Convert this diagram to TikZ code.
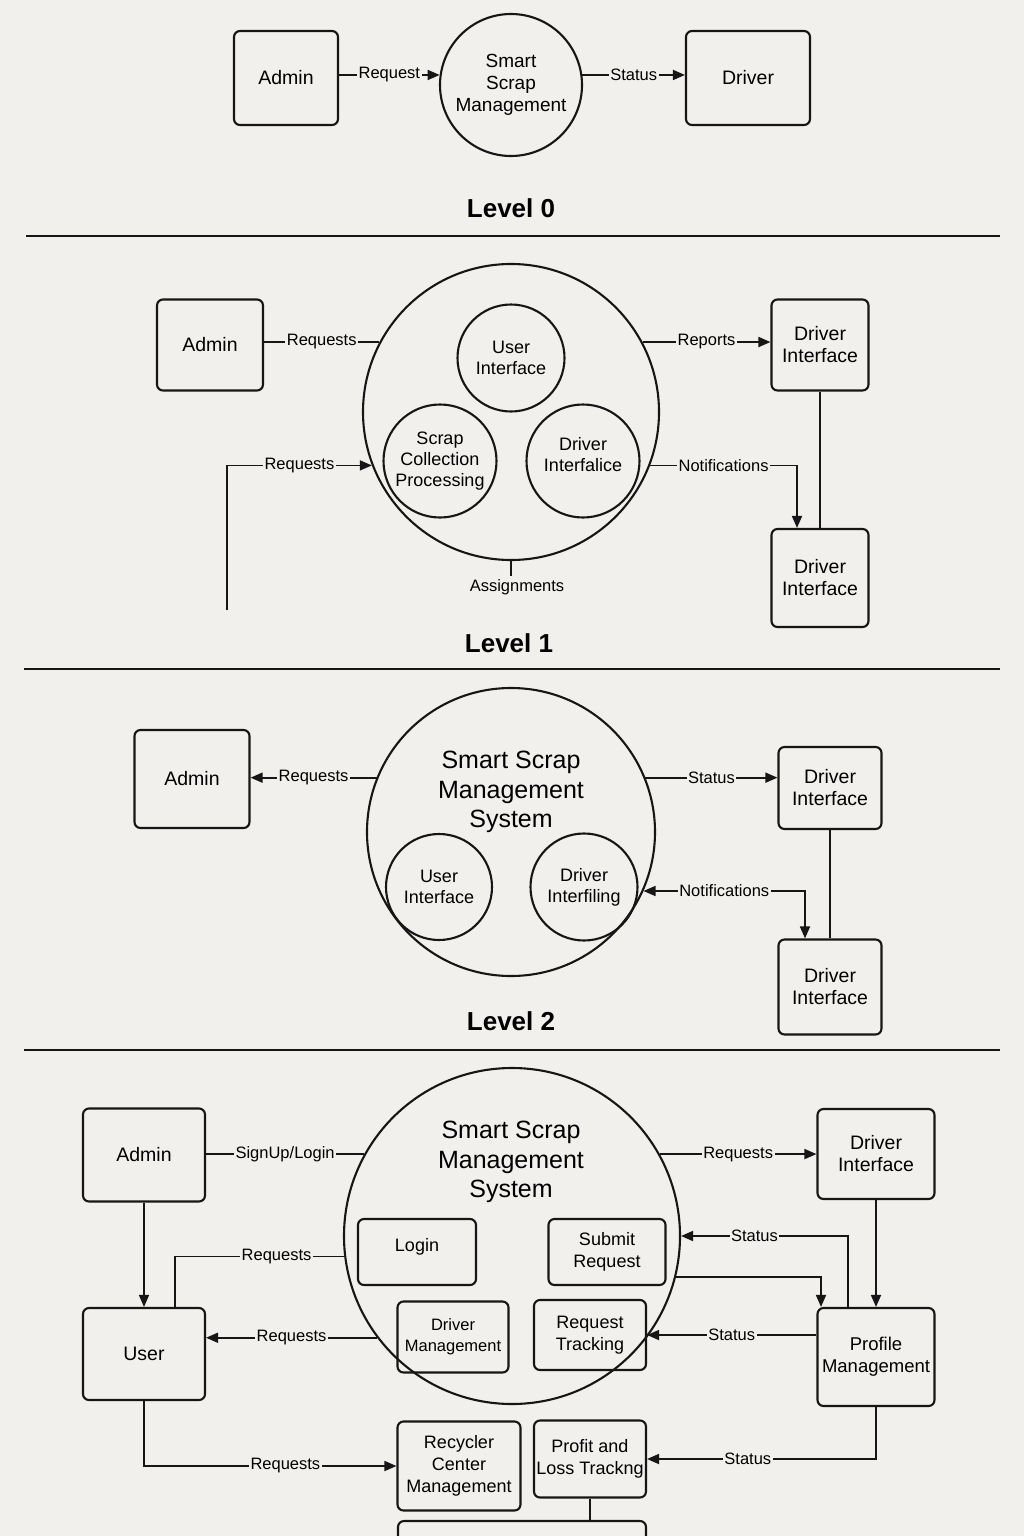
\documentclass[tikz,border=0pt]{standalone}
\usepackage{fontspec}
\setmainfont{Liberation Sans}
\usepackage{tikz}
\usetikzlibrary{arrows.meta}
\definecolor{paper}{RGB}{242,240,236}
\definecolor{ink}{RGB}{22,22,22}

\tikzset{
    entity/.style={draw=ink,line width=2.1pt,rounded corners=6pt,align=center,
        inner sep=0pt,font=\fontsize{19.5}{22}\selectfont},
    inbox/.style={draw=ink,line width=2.1pt,rounded corners=6pt,align=center,
        inner sep=0pt,font=\fontsize{18}{22}\selectfont},
    proc/.style={draw=ink,line width=2.1pt,circle,align=center,inner sep=0pt,
        font=\fontsize{18}{21}\selectfont},
    flowlbl/.style={fill=paper,inner sep=1.5pt,font=\fontsize{16.5}{19}\selectfont},
    flow/.style={draw=ink,line width=1.7pt},
    arr/.style={flow,-{Triangle[length=12pt,width=10pt]}},
    levelname/.style={font=\bfseries\fontsize{26}{30}\selectfont},
    systitle/.style={align=center,font=\fontsize{25}{29.5}\selectfont},
    divider/.style={draw=ink,line width=2pt}
}

\begin{document}
\begin{tikzpicture}[x=1pt,y=-1pt]
    \fill[paper] (0,0) rectangle (1024,1536);
    \useasboundingbox (0,0) rectangle (1024,1536);

    % level 0
    \begin{scope}
        \node[entity,minimum width=104,minimum height=94] (adm0) at (286,78) {Admin};
        \node[proc,minimum size=142,font=\fontsize{19}{22}\selectfont] (c0) at (511,85)
            {Smart\\Scrap\\Management};
        \node[entity,minimum width=124,minimum height=94] (drv0) at (748,78) {Driver};
        \draw[arr] (adm0.east |- c0.172) -- node[flowlbl] {Request} (c0.172);
        \draw[arr] (c0.8) -- node[flowlbl] {Status} (c0.8 -| drv0.west);
        \node[levelname] (lv0) at (511,208) {Level 0};
        \draw[divider] (26,236) -- (1000,236);
    \end{scope}

    % level 1
    \begin{scope}
        \node[entity,minimum width=106,minimum height=91] (adm1) at (210,345) {Admin};
        \node[proc,minimum size=296] (c1) at (511,412) {};
        \node[proc,minimum size=107] (ui1) at (511,358) {User\\Interface};
        \node[proc,minimum size=113] (scp1) at (440,461) {Scrap\\Collection\\Processing};
        \node[proc,minimum size=113] (dri1) at (583,461) {Driver\\Interfalice\\[-7pt]};
        \node[entity,minimum width=97,minimum height=91] (drv1a) at (820,345) {Driver\\Interface};
        \node[entity,minimum width=97,minimum height=98] (drv1b) at (820,578) {Driver\\Interface};
        \coordinate (src1) at (227,610);
        \draw[flow] (adm1.east |- c1.152) -- node[flowlbl] {Requests} (c1.152);
        \draw[arr] (src1) |- node[flowlbl,pos=0.75] {Requests} (c1.201);
        \draw[arr] (c1.28) -- node[flowlbl] {Reports} (c1.28 -| drv1a.west);
        \draw[flow] (drv1a.south) -- (drv1b.north);
        \draw[arr] (c1.-21) -| node[flowlbl,pos=0.25] {Notifications}
            ([xshift=-23pt]drv1b.north);
        \node[font=\fontsize{16.5}{19}\selectfont] (asg1) at (517,587) {Assignments};
        \draw[flow] (c1.south) -- (c1.south |- asg1.north);
        \node[levelname] (lv1) at (509,643) {Level 1};
        \draw[divider] (24,669) -- (1000,669);
    \end{scope}

    % level 2
    \begin{scope}
        \node[entity,minimum width=115,minimum height=98] (adm2) at (192,779) {Admin};
        \node[proc,minimum size=288] (c2) at (511,832) {};
        \node[systitle] (t2) at (511,792) {Smart Scrap\\Management\\System};
        \node[proc,minimum size=106] (ui2) at (439,887) {User\\Interface};
        \node[proc,minimum size=107] (dri2) at (584,887) {Driver\\Interfiling};
        \node[entity,minimum width=103,minimum height=82] (drv2a) at (830,788) {Driver\\Interface};
        \node[entity,minimum width=103,minimum height=95] (drv2b) at (830,987) {Driver\\Interface};
        \draw[arr] (c2.158) -- node[flowlbl] {Requests} (c2.158 -| adm2.east);
        \draw[arr] (c2.22) -- node[flowlbl] {Status} (c2.22 -| drv2a.west);
        \draw[flow] (drv2a.south) -- (drv2b.north);
        \draw[flow,{Triangle[length=12pt,width=10pt]}-{Triangle[length=12pt,width=10pt]}]
            (c2.-24) -| node[flowlbl,pos=0.25] {Notifications} ([xshift=-25pt]drv2b.north);
        \node[levelname] (lv2) at (511,1021) {Level 2};
        \draw[divider] (24,1050) -- (1000,1050);
    \end{scope}

    % level 3
    \begin{scope}
        \node[entity,minimum width=122,minimum height=93] (adm3) at (144,1155) {Admin};
        \node[entity,minimum width=122,minimum height=92] (user3) at (144,1354) {User};
        \node[proc,minimum size=336] (c3) at (512,1236) {};
        \node[systitle] (t3) at (511,1162) {Smart Scrap\\Management\\System};
        \node[inbox,minimum width=118,minimum height=66] (login3) at (417,1252) {Login\\[-7pt]};
        \node[inbox,minimum width=117,minimum height=66] (sub3) at (607,1252) {Submit\\Request};
        \node[inbox,minimum width=111,minimum height=71,font=\fontsize{16.5}{21}\selectfont]
            (dm3) at (453,1337) {Driver\\Management};
        \node[inbox,minimum width=112,minimum height=70] (trk3) at (590,1335) {Request\\Tracking};
        \node[entity,minimum width=117,minimum height=90] (drv3) at (876,1154) {Driver\\Interface};
        \node[entity,minimum width=117,minimum height=98,font=\fontsize{18.5}{22}\selectfont]
            (prof3) at (876,1357) {Profile\\Management};
        \node[inbox,minimum width=123,minimum height=89] (rec3) at (459,1466)
            {Recycler\\Center\\Management};
        \node[inbox,minimum width=112,minimum height=77] (pl3) at (590,1459)
            {Profit and\\Loss Trackng};
        \node[inbox,minimum width=248,minimum height=78] (bot3) at (522,1560) {};

        \draw[flow] (adm3.east |- c3.151) -- node[flowlbl] {SignUp/Login} (c3.151);
        \draw[arr] (c3.29) -- node[flowlbl] {Requests} (c3.29 -| drv3.west);
        \draw[arr] (adm3.south) -- (user3.north);
        \draw[flow] ([xshift=31pt]user3.north) |- node[flowlbl,pos=0.8] {Requests} (c3.187);
        \draw[arr] (c3.217) -- node[flowlbl] {Requests} (c3.217 -| user3.east);
        \draw[arr] (user3.south) |- node[flowlbl,pos=0.78] {Requests} (rec3.west);
        \draw[arr] ([xshift=-28pt]prof3.north) |- node[flowlbl,pos=0.78] {Status} (c3.east);
        \draw[arr] (c3.-14) -| ([xshift=-55pt]prof3.north);
        \draw[arr] (drv3.south) -- (prof3.north);
        \draw[arr] (prof3.west |- trk3.east) -- node[flowlbl] {Status} (trk3.east);
        \draw[arr] (prof3.south) |- node[flowlbl,pos=0.78] {Status} (pl3.east);
        \draw[flow] (pl3.south) -- (pl3.south |- bot3.north);
    \end{scope}
\end{tikzpicture}
\end{document}
